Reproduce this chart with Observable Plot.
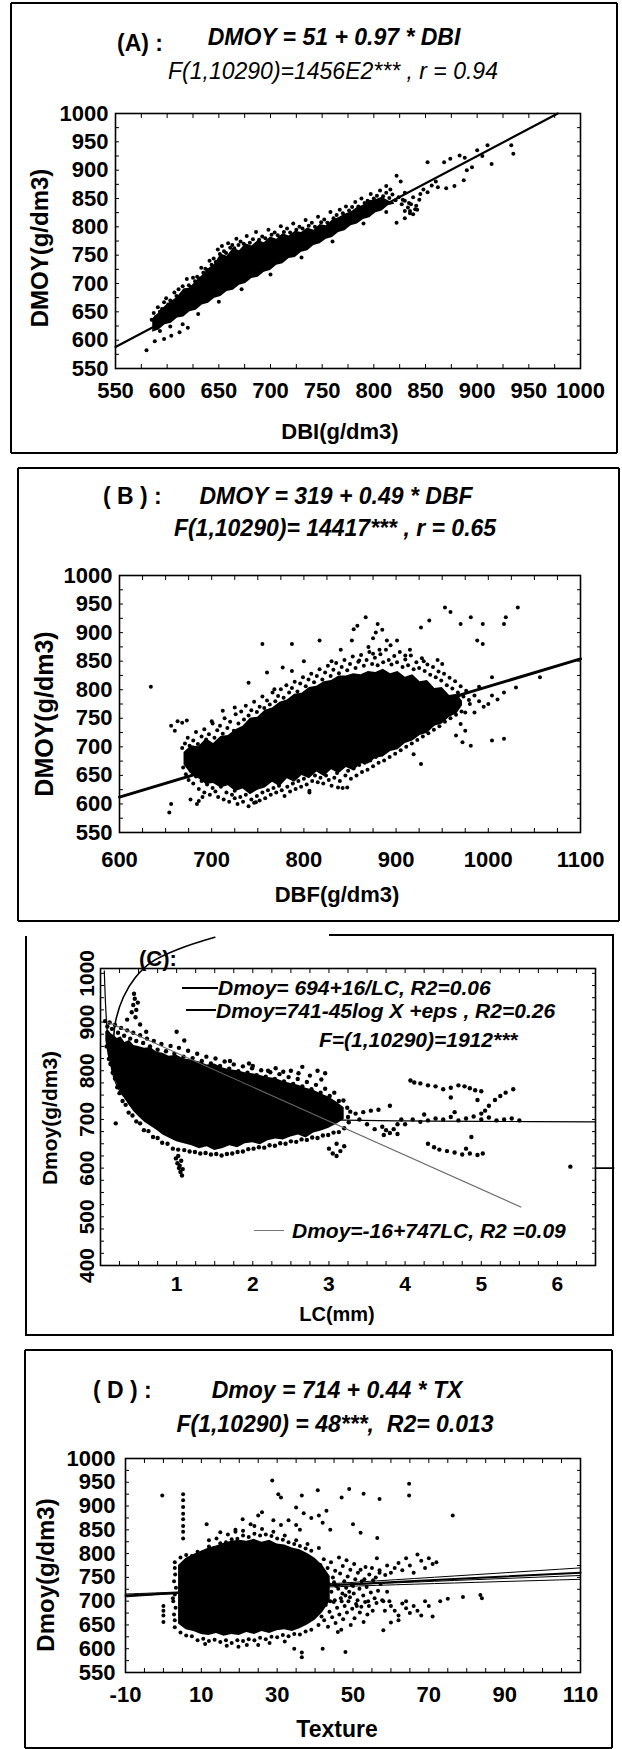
<!DOCTYPE html>
<html><head><meta charset="utf-8">
<script src="https://cdn.jsdelivr.net/npm/d3@7"></script>
<script src="https://cdn.jsdelivr.net/npm/@observablehq/plot@0.6"></script>
<style>
body{margin:0;background:#fff;}
#page{position:relative;width:622px;height:1749px;overflow:hidden;background:#fff;}
.ln{position:absolute;background:#000;}
.t{position:absolute;white-space:pre;line-height:1;color:#000;font-family:"Liberation Sans",Arial,sans-serif;}
svg{overflow:visible;}
</style></head>
<body><div id="page"></div>
<script>
// ---------- Panel A : DMOY vs DBI ----------
const aXTicks = [550,600,650,700,750,800,850,900,950,1000];
const aYTicks = [550,600,650,700,750,800,850,900,950,1000];
const aLine = [[550,588],[978,1000]];
const aCoreX  = [586,592,598,604,610,616,622,628,634,640,646,652,658,664,670,676,682,688,694,700,706,712,718,724,730,736,742,748,754,760,766,772,778,784,790,796,802,808,814,820];
const aCoreLo = [614,618,627,630,639,641,650,653,662,665,674,677,686,688,697,700,709,711,720,723,732,735,744,746,755,758,767,770,778,781,790,793,802,805,813,816,825,828,837,840];
const aCoreHi = [638,648,660,668,676,690,692,704,714,726,734,752,748,762,758,770,766,776,772,782,778,788,784,792,790,798,794,804,802,812,816,822,826,834,838,846,848,852,846,842];
const aDots = [[585,636],[587,648],[589,641],[591,658],[593,650],[595,655],[597,667],[599,674],[601,663],[603,670],[605,668],[607,684],[609,678],[611,690],[613,679],[615,695],[617,688],[619,708],[621,697],[623,694],[625,710],[627,704],[629,712],[631,709],[633,728],[635,719],[637,726],[639,724],[641,740],[643,733],[645,744],[647,738],[649,760],[651,752],[653,766],[655,757],[657,754],[659,771],[661,763],[663,768],[665,762],[667,779],[669,768],[671,774],[674,770],[677,784],[680,772],[683,778],[686,791],[689,777],[692,783],[695,780],[698,795],[701,786],[704,790],[707,785],[710,801],[713,791],[716,797],[719,790],[722,806],[725,795],[728,800],[731,797],[734,812],[737,802],[740,807],[743,800],[746,818],[749,808],[752,813],[755,807],[758,826],[761,815],[764,821],[767,830],[770,824],[773,836],[776,829],[779,835],[782,844],[785,836],[788,850],[791,842],[794,846],[797,858],[800,850],[803,855],[806,864],[809,854],[812,860],[815,851],[818,857],[821,847],[824,852],[827,840],[830,846],[833,834],[836,840],[830,828],[835,824],[840,831],
[580,582],[588,598],[597,602],[604,608],[612,614],[620,622],[593,616],[603,624],[615,628],[630,646],[650,668],[672,690],[700,716],[730,746],[760,774],[790,806],[812,826],
[822,890],[826,880],[852,914],[868,914],[874,920],[883,926],[888,922],[910,944],[914,911],[933,944],[935,929],[856,873],[862,870],[870,868],[878,872],[887,882],[841,837],[822,807],[830,815],[835,828],[852,861],[845,858],[838,852],[848,866],[860,880],[900,935],[905,925],[890,900],[895,905],[828,848],[834,842],[844,848],[816,866],[812,872],[830,860],[838,822],[842,830]];

// ---------- Panel B : DMOY vs DBF ----------
const bXTicks = [600,700,800,900,1000,1100];
const bYTicks = [550,600,650,700,750,800,850,900,950,1000];
const bLine = [[600,612],[1100,854]];
const bCoreX  = [670,678,686,694,702,710,718,726,734,742,750,758,766,774,782,790,798,806,814,822,830,838,846,854,862,870,878,886,894,902,910,918,926,934,942,950,958,966,972];
const bCoreLo = [668,652,644,634,636,628,632,622,626,616,624,628,638,630,644,638,650,644,656,648,660,653,664,658,670,670,680,682,692,695,706,710,720,724,736,740,752,758,772];
const bCoreHi = [690,702,700,714,706,718,720,730,736,750,752,764,768,778,782,792,794,804,806,814,816,824,824,828,826,832,830,836,828,832,822,826,814,816,802,804,790,792,780];
const bDots = [[668,698],[671,706],[674,716],[676,702],[680,711],[683,726],[685,705],[689,718],[692,731],[694,713],[697,722],[701,741],[703,716],[706,729],[709,737],[712,723],[714,750],[717,733],[720,744],[724,728],[726,757],[729,741],[732,762],[735,748],[737,772],[740,755],[743,764],[746,779],[749,761],[752,770],[755,788],[757,768],[760,781],[763,774],[766,795],[769,780],[772,789],[775,801],[778,786],[781,808],[784,795],[787,803],[790,814],[793,797],[796,811],[799,822],[802,806],[805,818],[808,828],[811,813],[814,824],[817,836],[820,818],[823,830],[826,842],[829,824],[832,835],[835,847],[838,829],[841,840],[844,852],[847,834],[850,845],[853,858],[856,838],[859,849],[862,861],[865,842],[868,852],[871,866],[874,845],[877,856],[880,843],[883,862],[886,848],[889,870],[892,852],[895,844],[898,859],[901,848],[904,866],[907,840],[910,853],[913,843],[916,860],[919,836],[922,848],[925,838],[928,855],[931,833],[934,844],[937,826],[940,840],[943,822],[946,832],[949,816],[952,828],[955,808],[958,821],[961,802],[964,815],[967,795],[970,806],[973,788],[976,798],[979,782],
[669,664],[672,652],[675,642],[677,658],[680,636],[683,648],[686,626],[689,640],[692,620],[695,634],[698,616],[701,628],[704,622],[707,612],[710,630],[713,608],[716,620],[719,604],[722,616],[725,610],[728,600],[731,612],[734,604],[737,616],[740,596],[743,608],[746,602],[749,614],[752,606],[755,620],[758,610],[761,624],[764,616],[767,628],[770,620],[773,632],[776,624],[779,614],[782,630],[785,622],[788,636],[791,626],[794,640],[797,630],[800,644],[803,634],[806,620],[809,640],[812,650],[815,638],[818,646],[821,636],[824,650],[827,642],[830,632],[833,646],[836,654],[839,640],[842,628],[845,650],[848,658],[851,644],[854,662],[857,650],[860,668],[863,656],[866,672],[869,660],[872,676],[875,666],[878,682],[881,672],[884,688],[887,676],[890,694],[893,682],[896,700],[899,688],[902,706],[905,694],[908,712],[911,700],[914,718],[917,706],[920,724],[923,712],[926,730],[929,718],[932,736],[935,724],[938,742],[941,730],[944,748],[947,736],[950,754],[953,744],[956,760],[959,750],[962,766],[965,756],[968,772],[971,762],
[968,790],[975,760],[980,775],[985,790],[990,780],[995,770],[970,740],[975,728],[965,720],[972,708],[981,702],[1000,775],[1004,790],[1010,783],[1004,711],[1017,714],[1017,795],[1030,804],[1056,822],[1004,822],[990,805],[985,760],
[634,805],[656,737],[663,745],[668,742],[673,746],[660,728],[656,600],[654,585],[677,608],[686,605],[684,600],[690,612],[712,763],[725,769],[768,801],[787,833],[777,839],[755,880],[787,880],[817,886],[852,886],[854,906],[858,912],[867,927],[880,915],[860,851],[875,863],[882,870],[890,886],[894,878],[901,886],[927,909],[936,921],[953,944],[959,936],[970,915],[981,927],[994,915],[988,886],[994,880],[1017,915],[1019,927],[1032,944],[927,670],[919,687],[837,629],[847,629],[806,623],[748,603],[725,623],[944,757],[910,860],[930,850],[945,852],[950,845],[915,870],[870,875],[875,890],[878,900],[885,905],[840,870],[830,850],[800,850],[760,830],[740,812],[700,745]];

// ---------- Panel C : Dmoy vs LC ----------
const cXTicks = [1,2,3,4,5,6];
const cYTicks = [400,500,600,700,800,900,1000];
const cHyper = [[0.05,1005],[0.07,925],[0.1,858],[0.15,800],[0.2,775],[0.3,748],[0.5,727],[1,710],[2,702],[3,699],[4,697],[5,696],[6.5,695]];
const cLogCurve = [[0.22,790],[0.18,830],[0.17,860],[0.2,903],[0.3,951],[0.46,992],[0.67,1023],[1.03,1050],[1.5,1074]];
const cLinear = [[0.094,900],[5.52,520]];
const cOutside = [[6.5,600],[6.74,600]];
const cCoreX  = [0.07,0.1,0.14,0.18,0.22,0.27,0.32,0.38,0.44,0.5,0.58,0.66,0.74,0.82,0.9,1.0,1.1,1.2,1.3,1.4,1.5,1.6,1.7,1.8,1.9,2.0,2.1,2.2,2.3,2.4,2.5,2.6,2.7,2.8,2.9,3.0,3.1,3.2];
const cCoreHi = [880,884,876,872,866,870,858,862,852,850,846,848,838,836,830,832,824,822,818,812,814,806,802,800,796,794,790,786,784,778,774,770,764,760,752,746,736,724];
const cCoreLo = [862,832,808,790,772,756,742,728,716,706,694,686,678,668,662,654,650,646,640,644,636,640,646,642,650,652,648,656,660,658,664,668,662,672,676,682,690,700];
const cDots = [[0.06,902],[0.09,891],[0.12,899],[0.15,886],[0.19,894],[0.23,878],[0.27,888],[0.31,872],[0.35,883],[0.39,866],[0.43,878],[0.47,861],[0.52,873],[0.56,857],[0.61,866],[0.65,850],[0.7,861],[0.75,843],[0.8,855],[0.86,840],[0.92,851],[0.97,835],[1.03,847],[1.09,829],[1.15,841],[1.21,826],[1.27,835],[1.33,820],[1.39,829],[1.45,815],[1.51,825],[1.57,810],[1.63,819],[1.69,804],[1.75,813],[1.81,799],[1.87,809],[1.93,796],[1.99,805],[2.05,791],[2.11,801],[2.17,788],[2.23,797],[2.29,783],[2.35,793],[2.41,778],[2.47,787],[2.53,773],[2.59,783],[2.65,768],[2.71,777],[2.77,762],[2.83,771],[2.89,755],[2.95,763],[3.01,748],[3.07,755],[3.13,738],[3.19,739],[3.24,724],[3.28,716],
[0.41,920],[0.43,935],[0.45,948],[0.47,925],[0.49,940],[0.44,958],[0.46,910],[0.52,895],[0.6,880],[0.35,905],[1.0,880],[1.1,862],[1.7,820],[2.2,800],[2.3,805],[2.4,798],[2.5,800],[2.6,795],[2.65,808],[2.75,790],[2.85,800],[2.9,782],[2.95,795],[1.95,815],[2.0,810],
[0.08,850],[0.11,824],[0.13,814],[0.16,796],[0.19,784],[0.22,766],[0.25,754],[0.29,738],[0.33,730],[0.37,714],[0.42,708],[0.47,696],[0.52,692],[0.57,678],[0.63,676],[0.69,664],[0.75,662],[0.81,652],[0.88,650],[0.95,640],[1.02,638],[1.1,637],[1.17,634],[1.24,633],[1.31,630],[1.38,631],[1.45,628],[1.52,629],[1.59,626],[1.66,629],[1.73,630],[1.8,633],[1.87,634],[1.94,639],[2.01,640],[2.08,643],[2.15,642],[2.22,647],[2.29,646],[2.36,651],[2.43,650],[2.5,655],[2.57,654],[2.64,659],[2.71,658],[2.78,663],[2.85,662],[2.92,667],[2.99,668],[3.06,673],[3.13,674],[3.2,682],[3.26,694],[0.2,692],
[0.99,620],[1.01,610],[1.03,600],[1.05,592],[1.07,585],[1.02,625],[1.06,615],[1.04,605],[1.08,598],
[3.0,640],[3.05,630],[3.1,625],[3.15,635],[3.2,645],[3.1,650],[3.25,705],[3.35,712],[3.45,715],[3.55,718],[3.65,720],[3.8,728],[3.7,685],[3.75,678],[3.8,672],[3.85,680],[3.9,670],[3.72,668],[3.6,680],[3.5,690],[3.4,700],[3.9,690],
[4.07,780],[4.12,776],[4.2,774],[4.3,770],[4.4,768],[4.5,762],[4.6,765],[4.7,770],[4.78,768],[4.85,764],[4.92,760],[5.0,758],[5.05,718],[5.1,728],[5.18,740],[5.25,748],[5.32,755],[5.42,762],[4.95,740],[4.6,745],
[4.1,700],[4.2,695],[4.3,698],[4.4,702],[4.5,700],[4.6,705],[4.7,698],[4.8,702],[4.9,706],[5.0,700],[5.1,704],[5.2,698],[5.3,700],[5.4,702],[5.5,698],[4.0,690],[3.95,700],[4.25,710],[4.65,715],[5.0,712],
[4.3,650],[4.38,643],[4.45,638],[4.55,635],[4.65,632],[4.75,628],[4.85,630],[4.95,627],[5.02,630],[4.87,664],[4.8,640],[6.17,603]];

// ---------- Panel D : Dmoy vs Texture ----------
const dXTicks = [-10,10,30,50,70,90,110];
const dYTicks = [550,600,650,700,750,800,850,900,950,1000];
const dLine = [[-10,712],[110,760]];
const dBandX  = [-10,30,110];
const dBandLo = [709,726,746];
const dBandMid = [711,728,754];
const dBandHi = [715,730,770];
const dCoreX  = [4,6,8,10,12,14,16,18,20,22,24,26,28,30,32,34,36,38,40,42,44];
const dCoreHi = [775,790,798,805,812,816,822,826,828,826,830,824,828,820,818,812,808,800,790,775,752];
const dCoreLo = [652,640,636,630,628,632,626,630,628,634,630,636,632,638,640,636,642,650,660,676,700];
const dDots = [[3,782],[4.5,792],[6,797],[7.5,795],[9,804],[10.5,803],[12,815],[13.5,812],[15,822],[16.5,824],[18,830],[19.5,831],[21,838],[22.5,835],[24,842],[25.5,838],[27,840],[28.5,837],[30,832],[31.5,829],[33,824],[34.5,820],[36,816],[37.5,811],[39,806],[12,828],[17,840],[21,848],[26,852],[29,846],[24,858],[19,846],[14,832],[32,838],[35,828],[38,820],[41,812],
[3,645],[4.5,634],[6,628],[7.5,626],[9,618],[10.5,621],[12,616],[13.5,619],[15,614],[16.5,618],[18,612],[19.5,618],[21,616],[22.5,620],[24,618],[25.5,623],[27,620],[28.5,625],[30,624],[31.5,629],[33,626],[34.5,631],[36,630],[37.5,636],[39,640],[16.7,606],[19.8,604],[25,608],[34.5,600],[36.5,582],[36.5,592],[42,600],[48,593],[28,612],[32,615],[11,610],[22,608],
[3,660],[2.8,672],[3.2,686],[2.6,700],[3,714],[3.3,728],[2.8,742],[3.1,756],[3,770],[2.5,706],[0,690],[0,680],[0,670],[0,656],[-0.3,922],[5.2,925],[5.2,912],[5.2,898],[5.2,884],[5.2,872],[5.2,858],[5.2,846],[5.2,832],
[38.5,762],[39.2,728],[38.8,695],[39.5,668],[40.1,752],[40.6,714],[40.3,684],[40.9,650],[41.4,776],[41.8,741],[41.2,702],[41.7,668],[42.3,788],[42.6,755],[42.1,724],[42.8,692],[42.4,660],[43.3,770],[43.6,736],[43.1,708],[43.8,678],[43.4,646],[44.2,782],[44.7,750],[44.3,720],[44.9,698],[44.5,666],[45.3,764],[45.6,732],[45.2,702],[45.8,686],[45.4,654],[46.3,792],[46.6,758],[46.1,726],[46.8,706],[46.4,672],[46.9,640],[47.3,774],[47.7,742],[47.2,716],[47.8,690],[47.4,662],[48.3,786],[48.6,752],[48.2,728],[48.8,700],[48.4,676],[49.3,766],[49.7,734],[49.2,708],[49.8,684],[49.4,650],[50.3,778],[50.6,746],[50.2,716],[50.8,694],[50.4,664],[51.3,760],[51.7,726],[51.2,702],[51.8,676],[52.3,742],[52.7,712],[52.2,688],[52.8,656],[53.3,772],[53.6,730],[53.2,698],[53.8,672],[54.3,756],[54.7,718],[54.2,690],[55.3,744],[55.7,706],[55.2,680],[56.3,790],[56.6,722],[56.2,696],[57.3,736],[57.7,702],[58,639],[58.4,680],[46,635],[44,700],[42,740],[48,712],[50,732],[52,766],[54,700],[56,750],[40,730],[39,780],[55,770],[57,760],[53,746],[51,690],[49,720],[47,700],[45,740],[43,720],[41,690],
[11.4,862],[20.9,872],[26,887],[28.7,954],[30.3,925],[31,918],[36.5,922],[40.7,933],[47,918],[49,936],[52.8,926],[57,915],[64.8,947],[64.8,922],[76.3,880],[50,862],[52,844],[56.4,833],[33,870],[35,860],[37,885],[39,875],[41,880],[43,890],[35,897],[42,865],[25,880],[23,862],[29,870],[31,860],[19,850],[15,845],[36,850],[44,850],
[58.5,755],[59,775],[60,760],[61,770],[62,780],[63,765],[64,790],[65,775],[66,760],[67,798],[68,785],[69,770],[70,790],[71,778],[72,782],[59.6,700],[60,690],[61,680],[62,670],[63,695],[64,685],[65,675],[66,690],[67,680],[68,670],[69,700],[70,690],[71,668],[62,660],[60,655],[64,700],[75,705],[79,709],[83.6,713],[84,706],[73,700],[58,700],[59,720],[57,765]];

// ---------- helpers ----------
const page = document.getElementById("page");
const TICKFONT = '"Liberation Sans",Arial,sans-serif';

function txt(s, x, base, size, {bold=true, italic=false, anchor="middle", rot=false}={}){
  const d = document.createElement("div");
  d.className = "t"; d.textContent = s;
  d.style.fontSize = size + "px";
  d.style.fontWeight = bold ? "bold" : "normal";
  d.style.fontStyle = italic ? "italic" : "normal";
  d.style.left = x + "px";
  if (rot) { d.style.top = base + "px"; d.style.transform = "translate(-50%,-50%) rotate(-90deg)"; }
  else {
    d.style.top = (base - 0.85*size) + "px";
    if (anchor === "middle") d.style.transform = "translateX(-50%)";
  }
  page.appendChild(d);
}
function hline(x1, x2, y, w=2, color="#000"){const d=document.createElement("div");d.className="ln";Object.assign(d.style,{left:x1+"px",top:(y-w/2)+"px",width:(x2-x1)+"px",height:w+"px",background:color});page.appendChild(d);}
function vline(x, y1, y2, w=2){const d=document.createElement("div");d.className="ln";Object.assign(d.style,{left:(x-w/2)+"px",top:y1+"px",width:w+"px",height:(y2-y1)+"px"});page.appendChild(d);}
function box(l,t,r,b){hline(l,r,t);hline(l,r,b);vline(l,t,b);vline(r,t,b);}
const P = a => a.map(([x,y]) => ({x, y}));
const band = (X, lo, hi) => X.map((x,i) => ({x, lo: lo[i], hi: hi[i]}));
const fmt = d => String(d);

function panel({left, top, width, height, frame, xDomain, yDomain, xTicks, yTicks, xMinor, yMinor, fs, xBase, yEnd, yRotate=false, marks}){
  const [fl, ft, fr, fb] = frame;
  const xPad = xBase - fb - 0.71*fs;
  const axes = [
    Plot.axisX({anchor:"bottom", ticks:xTicks, tickSize:0, tickPadding:xPad, tickFormat:fmt, label:null, fontSize:fs}),
    yRotate
      ? Plot.axisY({anchor:"left", ticks:yTicks, tickSize:0, tickRotate:-90, tickPadding:fl - yEnd, tickFormat:fmt, label:null, fontSize:fs})
      : Plot.axisY({anchor:"left", ticks:yTicks, tickSize:0, tickPadding:fl - yEnd, tickFormat:fmt, label:null, fontSize:fs}),
    Plot.axisX({anchor:"bottom", ticks:xMinor, tickSize:4, dy:-4, tickFormat:()=>"", label:null}),
    Plot.axisX({anchor:"top", ticks:xMinor, tickSize:4, dy:4, tickFormat:()=>"", label:null}),
    Plot.axisY({anchor:"left", ticks:yMinor, tickSize:4, dx:4, tickFormat:()=>"", label:null}),
    Plot.axisY({anchor:"right", ticks:yMinor, tickSize:4, dx:-4, tickFormat:()=>"", label:null})
  ];
  const svg = Plot.plot({
    width, height,
    marginLeft: fl - left, marginRight: left + width - fr, marginTop: ft - top, marginBottom: top + height - fb,
    x: {domain: xDomain}, y: {domain: yDomain},
    style: {fontFamily: TICKFONT, fontWeight: "bold", fontSize: fs + "px", color: "#000", background: "transparent", overflow: "visible"},
    marks: [...marks, Plot.frame({stroke:"#000", strokeWidth:1.6}), ...axes]
  });
  svg.style.position = "absolute"; svg.style.left = left + "px"; svg.style.top = top + "px"; svg.style.maxWidth = "none";
  page.appendChild(svg);
}

// ---------- Panel A ----------
panel({left:0, top:0, width:622, height:455, frame:[115,113,580,368],
  xDomain:[550,1000], yDomain:[550,1000], xTicks:aXTicks, yTicks:aYTicks,
  xMinor:d3.range(550,1001,25), yMinor:d3.range(550,1001,25), fs:22, xBase:397, yEnd:108,
  marks:[
    Plot.line(P(aLine), {x:"x", y:"y", stroke:"#000", strokeWidth:2.2}),
    Plot.areaY(band(aCoreX,aCoreLo,aCoreHi), {x:"x", y1:"lo", y2:"hi", fill:"#000"}),
    Plot.dot(P(aDots), {x:"x", y:"y", r:2, fill:"#000"})
  ]});
box(11,3,617,453);
txt("(A) :", 117, 52, 23, {anchor:"start"});
txt("DMOY = 51 + 0.97 * DBI", 334, 46, 23, {italic:true});
txt("F(1,10290)=1456E2*** , r = 0.94", 333, 80, 23, {italic:true, bold:false});
txt("DBI(g/dm3)", 340, 440, 22);
txt("DMOY(g/dm3)", 40, 248, 24, {rot:true});

// ---------- Panel B ----------
panel({left:0, top:470, width:622, height:450, frame:[119,575,580,832],
  xDomain:[600,1100], yDomain:[550,1000], xTicks:bXTicks, yTicks:bYTicks,
  xMinor:d3.range(600,1101,25), yMinor:d3.range(550,1001,25), fs:22, xBase:866, yEnd:112,
  marks:[
    Plot.areaY(band(bCoreX,bCoreLo,bCoreHi), {x:"x", y1:"lo", y2:"hi", fill:"#000"}),
    Plot.dot(P(bDots), {x:"x", y:"y", r:2, fill:"#000"}),
    Plot.line(P(bLine), {x:"x", y:"y", stroke:"#000", strokeWidth:3})
  ]});
box(18,468,619,921);
txt("( B ) :", 103, 505, 23, {anchor:"start"});
txt("DMOY = 319 + 0.49 * DBF", 336, 505, 23, {italic:true});
txt("F(1,10290)= 14417*** , r = 0.65", 335, 537, 23, {italic:true});
txt("DBF(g/dm3)", 337, 903, 22);
txt("DMOY(g/dm3)", 44, 714, 25, {rot:true});

// ---------- Panel C ----------
panel({left:0, top:930, width:622, height:400, frame:[100,968,595,1265],
  xDomain:[0,6.5], yDomain:[400,1010], xTicks:cXTicks, yTicks:cYTicks,
  xMinor:d3.range(0,6.51,0.25), yMinor:d3.range(400,1001,25), fs:21, xBase:1290, yEnd:93, yRotate:true,
  marks:[
    Plot.areaY(band(cCoreX,cCoreLo,cCoreHi), {x:"x", y1:"lo", y2:"hi", fill:"#000"}),
    Plot.dot(P(cDots), {x:"x", y:"y", r:2.2, fill:"#000"}),
    Plot.line(P(cHyper), {x:"x", y:"y", stroke:"#000", strokeWidth:1.2, curve:"catmull-rom"}),
    Plot.line(P(cLogCurve), {x:"x", y:"y", stroke:"#000", strokeWidth:1.6, curve:"catmull-rom"}),
    Plot.line(P(cLinear), {x:"x", y:"y", stroke:"#666", strokeWidth:1.1}),
    Plot.line(P(cOutside), {x:"x", y:"y", stroke:"#000", strokeWidth:1.6})
  ]});
vline(26,936,1336); vline(613,934,1336); hline(26,613,1335); hline(329,613,935);
txt("(C):", 139, 967, 22, {anchor:"start"});
hline(182,218,988,1.2);
txt("Dmoy= 694+16/LC, R2=0.06", 218, 995, 21, {italic:true, anchor:"start"});
hline(186,216,1010,2);
txt("Dmoy=741-45log X +eps , R2=0.26", 216, 1018, 21, {italic:true, anchor:"start"});
txt("F=(1,10290)=1912***", 319, 1047, 21, {italic:true, anchor:"start"});
hline(254,284,1230,1,"#777");
txt("Dmoy=-16+747LC, R2 =0.09", 292, 1238, 21, {italic:true, anchor:"start"});
txt("LC(mm)", 337, 1321, 20);
txt("Dmoy(g/dm3)", 49, 1118, 21, {rot:true});

// ---------- Panel D ----------
panel({left:0, top:1352, width:622, height:397, frame:[125,1458,580,1672],
  xDomain:[-10,110], yDomain:[550,1000], xTicks:dXTicks, yTicks:dYTicks,
  xMinor:d3.range(-10,111,5), yMinor:d3.range(550,1001,25), fs:22, xBase:1701, yEnd:115,
  marks:[
    Plot.areaY(band(dCoreX,dCoreLo,dCoreHi), {x:"x", y1:"lo", y2:"hi", fill:"#000"}),
    Plot.dot(P(dDots), {x:"x", y:"y", r:2, fill:"#000"}),
    Plot.line(P(dLine), {x:"x", y:"y", stroke:"#000", strokeWidth:2}),
    Plot.line(band(dBandX,dBandLo,dBandLo), {x:"x", y:"lo", stroke:"#000", strokeWidth:1, curve:"natural"}),
    Plot.line(band(dBandX,dBandMid,dBandMid), {x:"x", y:"lo", stroke:"#000", strokeWidth:1, curve:"natural"}),
    Plot.line(band(dBandX,dBandHi,dBandHi), {x:"x", y:"lo", stroke:"#000", strokeWidth:1, curve:"natural"})
  ]});
box(25,1350,612,1748);
txt("( D ) :", 93, 1399, 23, {anchor:"start"});
txt("Dmoy = 714 + 0.44 * TX", 337, 1399, 23, {italic:true});
txt("F(1,10290) = 48***,  R2= 0.013", 335, 1433, 23, {italic:true});
txt("Texture", 337, 1738, 23);
txt("Dmoy(g/dm3)", 46, 1575, 24, {rot:true});
</script>
</body></html>
